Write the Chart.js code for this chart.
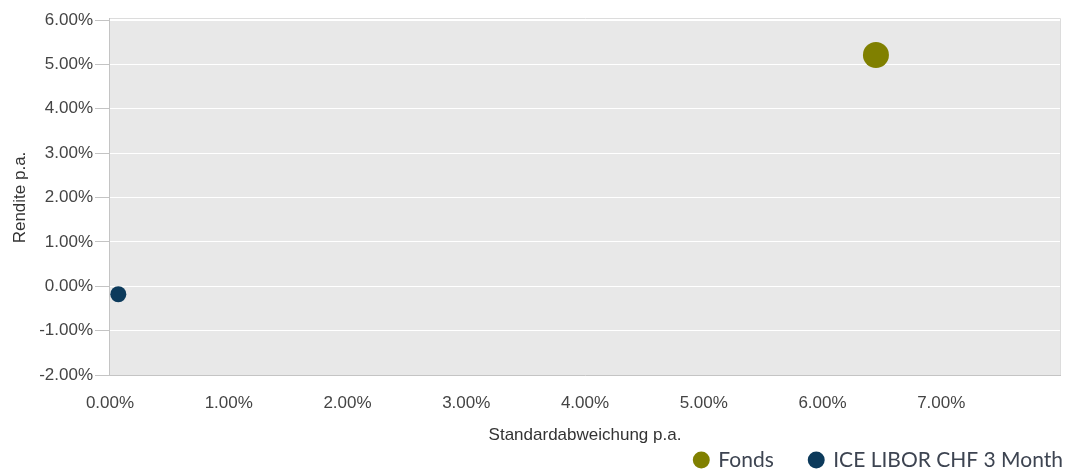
<!DOCTYPE html>
<html>
<head>
<meta charset="utf-8">
<script src="https://cdn.jsdelivr.net/npm/chart.js@4"></script>
<style>
  html, body { margin: 0; padding: 0; background: #ffffff; }
  #wrap { width: 1086px; height: 473px; position: relative; }
</style>
</head>
<body>
<div id="wrap"><canvas id="c"></canvas></div>
<script>
// ---- data ----
const categories = ['Fonds', 'ICE LIBOR CHF 3 Month'];
const stdDev = [6.45, 0.07];       // Standardabweichung p.a. (%)
const returns = [5.21, -0.18];     // Rendite p.a. (%)
const seriesColors = ['#808000', '#0c3a5b'];
const xTickLabels = ['0.00%', '1.00%', '2.00%', '3.00%', '4.00%', '5.00%', '6.00%', '7.00%'];
const yTickLabels = ['-2.00%', '-1.00%', '0.00%', '1.00%', '2.00%', '3.00%', '4.00%', '5.00%', '6.00%'];
const xTitle = 'Standardabweichung p.a.';
const yTitle = 'Rendite p.a.';

const pointRadii = [13, 8];

const datasets = categories.map((name, i) => ({
  label: name,
  data: [{ x: stdDev[i], y: returns[i] }],
  backgroundColor: seriesColors[i],
  borderColor: seriesColors[i],
  borderWidth: 0,
  pointRadius: pointRadii[i],
  pointHoverRadius: pointRadii[i],
  pointStyle: 'circle'
}));

const plotFrame = {
  id: 'plotFrame',
  beforeDraw(chart) {
    const { ctx, chartArea: a } = chart;
    ctx.save();
    ctx.fillStyle = '#e8e8e8';
    ctx.fillRect(a.left, a.top, a.right - a.left, a.bottom - a.top);
    ctx.restore();
  },
  beforeDatasetsDraw(chart) {
    const { ctx, chartArea: a } = chart;
    ctx.save();
    ctx.lineWidth = 1;
    ctx.strokeStyle = '#dcdcdc';
    ctx.beginPath();
    ctx.moveTo(a.left, a.top - 1.5); ctx.lineTo(a.right + 0.5, a.top - 1.5);
    ctx.moveTo(a.right + 0.5, a.top - 1.5); ctx.lineTo(a.right + 0.5, a.bottom);
    ctx.stroke();
    ctx.strokeStyle = '#c4c4c4';
    ctx.beginPath();
    ctx.moveTo(a.left - 0.5, a.top - 2); ctx.lineTo(a.left - 0.5, a.bottom + 0.5);
    ctx.lineTo(a.right + 1, a.bottom + 0.5);
    ctx.stroke();
    ctx.restore();
  }
};

const tickFont = { family: "'Liberation Sans', Arial, sans-serif", size: 17 };

new Chart(document.getElementById('c'), {
  type: 'scatter',
  data: { datasets },
  options: {
    responsive: true,
    maintainAspectRatio: false,
    devicePixelRatio: 1,
    animation: false,
    layout: { padding: { top: 20, left: 0, right: -13, bottom: -7.5 } },
    plugins: {
      tooltip: { enabled: false },
      legend: {
        position: 'bottom',
        align: 'end',
        labels: {
          usePointStyle: true,
          pointStyle: 'circle',
          boxWidth: 13,
          boxHeight: 12,
          padding: 36,
          color: '#3d4451',
          font: { family: "Lato, 'Noto Sans', sans-serif", size: 21 }
        }
      }
    },
    scales: {
      x: {
        type: 'linear',
        position: 'bottom',
        min: 0,
        max: 8,
        afterFit(s) { s.height = 38.5; },
        grid: { display: false },
        border: { display: false },
        ticks: {
          stepSize: 1,
          padding: 10,
          color: '#444444',
          font: tickFont,
          maxRotation: 0,
          callback: (v) => xTickLabels[Math.round(v)] ?? ''
        },
        title: {
          display: true,
          text: xTitle,
          color: '#333333',
          font: tickFont,
          padding: { top: 0, bottom: -32 }
        }
      },
      y: {
        type: 'linear',
        position: 'left',
        min: -2,
        max: 6,
        afterFit(s) { s.width = 110; },
        grid: { color: '#ffffff', tickColor: '#c4c4c4', tickLength: 15, lineWidth: 1 },
        border: { display: false },
        ticks: {
          stepSize: 1,
          padding: 2,
          color: '#444444',
          font: tickFont,
          callback: (v) => yTickLabels[Math.round(v) + 2] ?? ''
        },
        title: {
          display: true,
          text: yTitle,
          color: '#333333',
          font: tickFont,
          padding: { top: 10, bottom: 0 }
        }
      },
      y2: {
        type: 'linear',
        position: 'right',
        display: true,
        afterFit(s) { s.width = 39; },
        grid: { display: false },
        border: { display: false },
        ticks: { display: false }
      }
    }
  },
  plugins: [plotFrame]
});
</script>
</body>
</html>
